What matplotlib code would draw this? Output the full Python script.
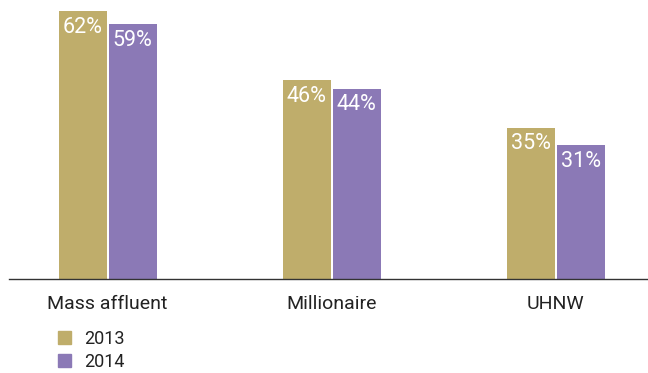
import matplotlib.pyplot as plt
import numpy as np
from matplotlib.patches import Rectangle

categories = ["Mass affluent", "Millionaire", "UHNW"]
years = ["2013", "2014"]
values_2013 = [62, 46, 35]
values_2014 = [59, 44, 31]

GOLD = "#bfad6b"
PURPLE = "#8b79b6"

plt.rcParams["font.family"] = ["Roboto", "DejaVu Sans"]

W, H = 648, 373
fig = plt.figure(figsize=(W / 100, H / 100), dpi=100)
# axes in pixel units: left edge 9, baseline at y=279
ax = fig.add_axes([9 / W, (H - 279) / H, (W - 9) / W, 279 / H])

x = np.arange(len(categories))
width = 48 / 224
offset = 25 / 224

bars13 = ax.bar(x - offset, values_2013, width, color=GOLD)
bars14 = ax.bar(x + offset, values_2014, width, color=PURPLE)

for bars, vals in [(bars13, values_2013), (bars14, values_2014)]:
    for b, v in zip(bars, vals):
        ax.annotate(f"{v}%", (b.get_x() + b.get_width() / 2, v),
                    xytext=(0, -4), textcoords="offset points",
                    ha="center", va="top", color="white", fontsize=15.5)

ax.set_xlim((9 - 107.5) / 224, (648 - 107.5) / 224)
ax.set_ylim(0, 279 / 4.32)
for s in ["top", "right", "left"]:
    ax.spines[s].set_visible(False)
ax.spines["bottom"].set_color("#333333")
ax.spines["bottom"].set_linewidth(1.0)
ax.set_yticks([])
ax.set_xticks(x)
ax.set_xticklabels(categories, fontsize=14, color="#222222")
ax.tick_params(axis="x", length=0, pad=11.5)

# legend drawn as squares in figure pixel coordinates
for i, (yr, col) in enumerate(zip(years, [GOLD, PURPLE])):
    top = 331 + i * 23
    fig.patches.append(Rectangle((58 / W, (H - top - 12.5) / H), 12.5 / W, 12.5 / H,
                                 transform=fig.transFigure, color=col))
    fig.text(84 / W, (H - top - 8) / H, yr, fontsize=13, color="#222222",
             va="center", ha="left")

fig.savefig("out.png", dpi=100)
